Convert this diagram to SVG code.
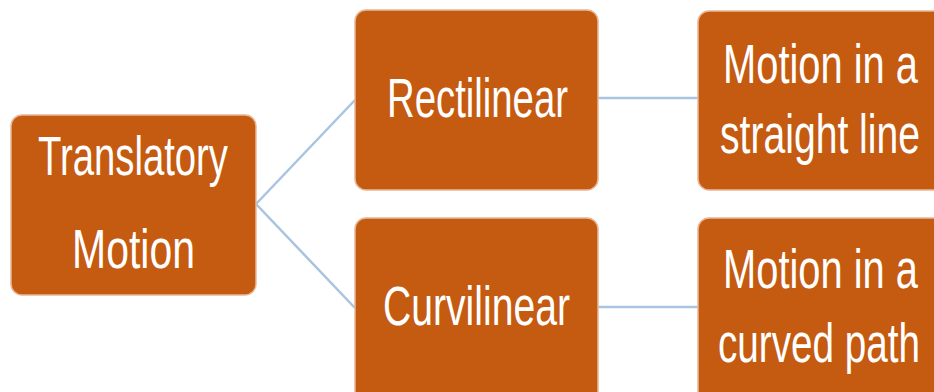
<svg xmlns="http://www.w3.org/2000/svg" width="934" height="392" viewBox="0 0 934 392">
<style>
.box{fill:#C55A11;stroke:#E8B898;stroke-width:1.5}
.t{font-family:"Liberation Sans",Arial,sans-serif;font-size:56px;fill:#FFFFFF}
.c{stroke:#A9C4E0;stroke-width:2.5;fill:none}
</style>
<rect width="934" height="392" fill="#FFFFFF"/>
<g id="connectors">
<path class="c" d="M256,204 L355,100"/>
<path class="c" d="M256,204 L355,308"/>
<path class="c" d="M598,98 L698,98"/>
<path class="c" d="M598,307 L698,307"/>
</g>
<g id="translatory">
<rect class="box" x="11" y="115" width="245" height="180" rx="11"/>
<text class="t" x="38" y="175" textLength="190" lengthAdjust="spacingAndGlyphs">Translatory</text>
<text class="t" x="72" y="268" textLength="123" lengthAdjust="spacingAndGlyphs">Motion</text>
</g>
<g id="rectilinear">
<rect class="box" x="355" y="10" width="243" height="180" rx="11"/>
<text class="t" x="387" y="117" textLength="181" lengthAdjust="spacingAndGlyphs">Rectilinear</text>
</g>
<g id="curvilinear">
<rect class="box" x="355" y="218" width="243" height="184" rx="11"/>
<text class="t" x="383" y="325" textLength="187" lengthAdjust="spacingAndGlyphs">Curvilinear</text>
</g>
<g id="straight">
<rect class="box" x="698" y="11" width="250" height="179" rx="11"/>
<text class="t" x="723" y="83" textLength="195" lengthAdjust="spacingAndGlyphs">Motion in a</text>
<text class="t" x="720" y="153" textLength="200" lengthAdjust="spacingAndGlyphs">straight line</text>
</g>
<g id="curved">
<rect class="box" x="698" y="218" width="250" height="184" rx="11"/>
<text class="t" x="723" y="288" textLength="195" lengthAdjust="spacingAndGlyphs">Motion in a</text>
<text class="t" x="718" y="362" textLength="202" lengthAdjust="spacingAndGlyphs">curved path</text>
</g>
</svg>
